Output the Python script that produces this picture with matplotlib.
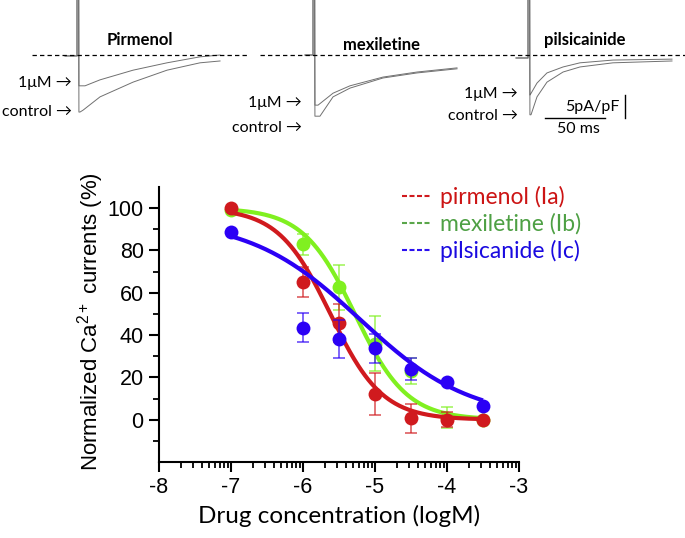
import numpy as np
import matplotlib
matplotlib.use("Agg")
import matplotlib.pyplot as plt
from matplotlib.lines import Line2D

plt.rcParams['font.family'] = ['Liberation Sans', 'DejaVu Sans']
plt.rcParams['mathtext.fontset'] = 'custom'
plt.rcParams['mathtext.rm'] = 'Liberation Sans'
plt.rcParams['mathtext.it'] = 'Liberation Sans:italic'
plt.rcParams['mathtext.bf'] = 'Liberation Sans:bold'
plt.rcParams['mathtext.default'] = 'rm'

# ---------------- data: dose-response ----------------
log_conc = [-7, -6, -5.5, -5, -4.5, -4, -3.5]
pirmenol = [100, 65, 45.5, 12, 0.6, 0, 0]
pirmenol_err = [0, 7, 9, 10, 7, 3.5, 0]
mexiletine = [99, 83, 62.5, 36, 23, 1, 0]
mexiletine_err = [0, 5, 10.5, 13, 6, 5, 0]
pilsicainide = [88.7, 43.5, 38, 33.7, 24, 17.8, 6.5]
pilsicainide_err = [0, 7, 9, 7, 5, 0, 0]

# Hill-fit parameters: top, bottom, logIC50, slope
fit_top = [100, 100, 95]
fit_bottom = [0, 0, 0]
fit_logic50 = [-5.62, -5.28, -5.21]
fit_slope = [1.2, 1.2, 0.57]

labels = ["pirmenol (Ia)", "mexiletine (Ib)", "pilsicanide (Ic)"]
x_ticks = [-8, -7, -6, -5, -4, -3]
y_ticks = [0, 20, 40, 60, 80, 100]

# ---------------- data: current traces (ms, pA/pF) ----------------
panel_names = ["Pirmenol", "mexiletine", "pilsicainide"]
# control traces
ctrl_t = [[2.5, 5, 19.2, 46.7, 75, 102.5, 119.2],
          [5.8, 16.7, 30.8, 58.3, 86.7, 120],
          [2.5, 7.5, 15.8, 29.2, 43.3, 70.8, 120]]
ctrl_i = [[-12.4, -12.0, -9.1, -5.9, -3.3, -1.7, -1.3],
          [-13.3, -9.1, -7.2, -5.0, -3.9, -3.0],
          [-13.0, -9.1, -5.9, -3.7, -2.6, -1.7, -1.3]]
# 1 uM traces
drug_t = [[6.7, 19.2, 46.7, 75, 102.5, 119.2],
          [4.2, 16.7, 30.8, 58.3, 86.7, 120],
          [1.7, 7.5, 15.8, 29.2, 43.3, 70.8, 120]]
drug_i = [[-6.7, -5.4, -3.3, -1.7, -0.4, 0],
          [-10.9, -8.3, -6.7, -4.8, -3.7, -2.8],
          [-8.7, -6.1, -3.9, -2.6, -1.7, -1.1, -0.9]]
hold_t = [-10, -6.7, -10]
hold_i = [-0.2, 0, -0.65]
scale_ms = 50
scale_pa = 5

# ---------------- figure ----------------
W, H = 685, 538
fig = plt.figure(figsize=(W / 100, H / 100), dpi=100)

def fx(px):
    return px / W

def fy(py):
    return 1 - py / H

# ---- top trace strip ----
px_per_ms = 1.2
px_per_pa = 4.6
strip_h = 140
axt = fig.add_axes([0, fy(strip_h), 1, strip_h / H])
axt.set_xlim(0, W / px_per_ms)
axt.set_ylim(-(strip_h - 55) / px_per_pa, 55 / px_per_pa)
axt.axis('off')

spike_px = [77, 313, 528]
base_px = [(32, 248), (260, 480), (480, 685)]
trace_col = '#707070'
for k in range(3):
    t0 = spike_px[k] / px_per_ms
    b0, b1 = base_px[k]
    axt.plot([b0 / px_per_ms, b1 / px_per_ms], [0, 0], color='black', lw=0.9,
             ls=(0, (3.5, 2.5)), zorder=3)
    for tt, ii in ((ctrl_t[k], ctrl_i[k]), (drug_t[k], drug_i[k])):
        t = [hold_t[k], 0, 0, 1.2, 1.6] + list(tt)
        i = [hold_i[k], hold_i[k], 40, 40, ii[0]] + list(ii)
        axt.plot(t0 + np.array(t), i, color=trace_col, lw=0.7)
    axt.plot([t0 + 0.6, t0 + 0.6], [hold_i[k], 40], color='#c4c4c4', lw=1.0, zorder=1)

# scale bars
sb_x0 = 545 / px_per_ms
sb_y = -(118 - 55) / px_per_pa
axt.plot([sb_x0, sb_x0 + scale_ms], [sb_y, sb_y], color='black', lw=1.0)
sb_vx = 625 / px_per_ms
axt.plot([sb_vx, sb_vx], [sb_y, sb_y + scale_pa], color='black', lw=1.0)

lfont = ['Lato', 'DejaVu Sans']
tfont = dict(family=lfont, fontsize=11.5, color='black')
fig.text(fx(619), fy(107), "5pA/pF", ha='right', va='center', **tfont)
fig.text(fx(578), fy(129), "50 ms", ha='center', va='center', **tfont)

name_pos = [(140, 40), (382, 45), (585, 40)]
for k in range(3):
    fig.text(fx(name_pos[k][0]), fy(name_pos[k][1]), panel_names[k], ha='center',
             va='center', fontweight='bold', family=lfont, fontsize=12)

lab_pos = [((72, 83), (72, 112)), ((302, 103), (302, 128)), ((518, 94), (518, 116))]
for k in range(3):
    (x1, y1), (x2, y2) = lab_pos[k]
    fig.text(fx(x1), fy(y1), "1\u03bcM \u2192", ha='right', va='center', **tfont)
    fig.text(fx(x2), fy(y2), "control \u2192", ha='right', va='center', **tfont)

# ---- main dose-response axes ----
ax = fig.add_axes([fx(159), fy(462), fx(519) - fx(159), fy(187) - fy(462)])
ax.set_xlim(-8, -3)
ax.set_ylim(-20, 110)
ax.patch.set_alpha(0)

cols = ['#d01a1e', '#80f020', '#2b00f5']
series = [pirmenol, mexiletine, pilsicainide]
errs = [pirmenol_err, mexiletine_err, pilsicainide_err]
zorders = [4, 3, 5]
xs = np.linspace(log_conc[0], log_conc[-1], 300)
for k in range(3):
    yfit = fit_bottom[k] + (fit_top[k] - fit_bottom[k]) / (1 + 10 ** ((xs - fit_logic50[k]) * fit_slope[k]))
    ax.plot(xs, yfit, color=cols[k], lw=3, zorder=zorders[k], solid_capstyle='butt')
    ax.errorbar(log_conc, series[k], yerr=errs[k], fmt='none', ecolor=cols[k],
                elinewidth=1.3, capsize=4.5, capthick=1.3, alpha=0.65, zorder=zorders[k])
    ax.plot(log_conc, series[k], 'o', color=cols[k], ms=10, mec='none', zorder=zorders[k] + 0.5)

for s in ('top', 'right'):
    ax.spines[s].set_visible(False)
for s in ('left', 'bottom'):
    ax.spines[s].set_linewidth(1.5)

ax.set_xticks(x_ticks)
ax.set_xticklabels([str(v) for v in x_ticks])
minor_x = [d + np.log10(m) for d in x_ticks[:-1] for m in range(2, 10)]
ax.set_xticks(minor_x, minor=True)
ax.set_yticks(y_ticks)
ax.set_yticks([-10, 10, 30, 50, 70, 90], minor=True)
ax.tick_params(which='major', direction='out', length=7, width=1.5, labelsize=15.5, pad=4)
ax.tick_params(which='minor', direction='out', length=4, width=1.3)

ax.set_xlabel("Drug concentration (logM)", fontsize=17.5, family=lfont, labelpad=5)
fig.text(fx(91), fy(322), "Normalized Ca$^{2+}$ currents (%)", rotation=90,
         ha='center', va='center', fontsize=16, family=['Liberation Sans', 'DejaVu Sans'])

# legend
leg_cols_line = ['#d01a1e', '#5aa64a', '#2b10f0']
leg_cols_text = ['#cc1414', '#4ea044', '#1a0ae0']
handles = [Line2D([], [], color=c, lw=1.5, ls=(0, (2.4, 1.2))) for c in leg_cols_line]
leg = ax.legend(handles, labels, loc='upper left', frameon=False,
                prop={'family': lfont, 'size': 16.5}, handlelength=1.3, handletextpad=0.35,
                labelspacing=0.22, borderaxespad=0)
leg.set_bbox_to_anchor((fx(393), fy(177)), transform=fig.transFigure)
for t, c in zip(leg.get_texts(), leg_cols_text):
    t.set_color(c)

fig.savefig("out.png", dpi=100)
